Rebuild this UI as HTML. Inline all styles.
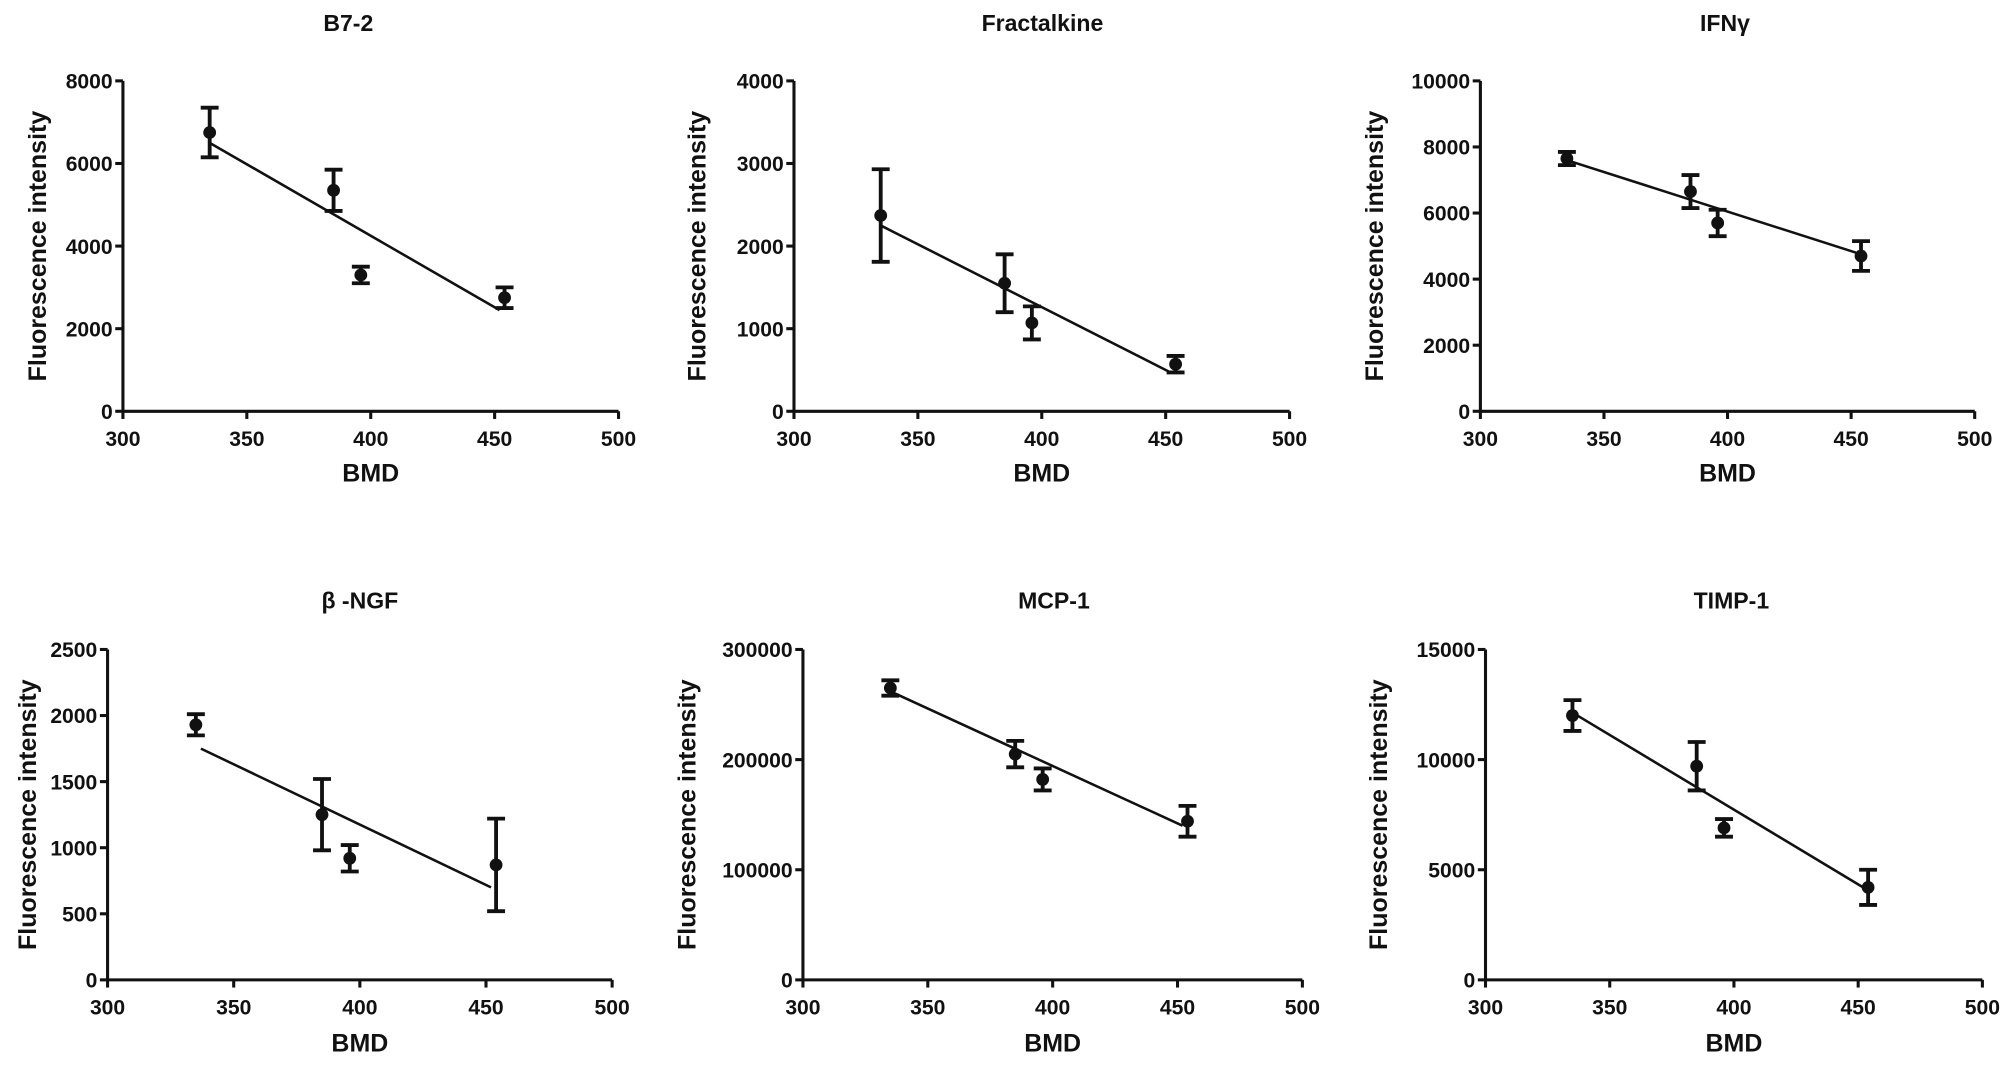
<!DOCTYPE html>
<html><head><meta charset="utf-8"><style>
html,body{margin:0;padding:0;background:#fff;}
svg{display:block;}
text{font-family:"Liberation Sans",Arial,sans-serif;font-weight:bold;fill:#111;}
</style></head><body>
<svg id="fig" width="2008" height="1071" viewBox="0 0 1568 836" xmlns="http://www.w3.org/2000/svg"></svg>
<script>
const bmd = [335, 385, 396, 454];
const titles = ["B7-2", "Fractalkine", "IFNγ", "β -NGF", "MCP-1", "TIMP-1"];
const yMax = [8000, 4000, 10000, 2500, 300000, 15000];
const yStep = [2000, 1000, 2000, 500, 100000, 5000];
const meanB72 = [6750, 5350, 3300, 2750];
const errB72 = [600, 500, 200, 250];
const meanFrac = [2370, 1550, 1070, 570];
const errFrac = [560, 350, 200, 100];
const meanIFN = [7650, 6650, 5700, 4700];
const errIFN = [200, 500, 400, 450];
const meanNGF = [1930, 1250, 920, 870];
const errNGF = [80, 270, 100, 350];
const meanMCP = [265000, 205000, 182000, 144000];
const errMCP = [7000, 12000, 10000, 14000];
const meanTIMP = [12000, 9700, 6900, 4200];
const errTIMP = [700, 1100, 400, 800];
const fitX = [[335, 452], [335, 452], [335, 452], [337, 452], [335, 452], [337, 452]];
const fitY = [[6500, 2450], [2250, 470], [7600, 4800], [1750, 700], [262000, 140000], [12000, 4200]];
const means = [meanB72, meanFrac, meanIFN, meanNGF, meanMCP, meanTIMP];
const errs = [errB72, errFrac, errIFN, errNGF, errMCP, errTIMP];
const xTicks = [300, 350, 400, 450, 500];

const layout = [
  {x0:96,x1:483,y0:321,y1:63,tx:272,ty:24,lx:30,bx:370},
  {x0:620,x1:1007,y0:321,y1:63,tx:814,ty:24,lx:545,bx:370},
  {x0:1156,x1:1542,y0:321,y1:63,tx:1347,ty:24,lx:1074,bx:370},
  {x0:84,x1:478,y0:765,y1:507,tx:281,ty:475,lx:22,bx:815},
  {x0:627,x1:1017,y0:765,y1:507,tx:823,ty:475,lx:537,bx:815},
  {x0:1160,x1:1548,y0:765,y1:507,tx:1352,ty:475,lx:1077,bx:815}
];
const NS="http://www.w3.org/2000/svg";
const svg=document.getElementById('fig');
function mk(tag,attrs,parent){const e=document.createElementNS(NS,tag);for(const k in attrs)e.setAttribute(k,attrs[k]);parent.appendChild(e);return e;}

titles.forEach((t,i)=>{
  const L=layout[i];
  const g=mk('g',{},svg);
  
  
  const sx=v=>L.x0+(v-300)/200*(L.x1-L.x0);
  const sy=v=>L.y0-v/yMax[i]*(L.y0-L.y1);
  const tt=mk('text',{x:L.tx,y:L.ty,'text-anchor':'middle','font-size':18},g);tt.textContent=t;
  
  
  const ax=mk('path',{d:`M${L.x0},${L.y1}V${L.y0}H${L.x1}`,stroke:'#111','stroke-width':2.4,fill:'none'},g);
  
  
  for(let v=0;v<=yMax[i];v+=yStep[i]){
    const y=sy(v);
    mk('line',{x1:L.x0-6,x2:L.x0,y1:y,y2:y,stroke:'#111','stroke-width':2.4},g);
    const lb=mk('text',{x:L.x0-8,y:y+6,'text-anchor':'end','font-size':16.5},g);lb.textContent=v;
    
    
  }
  xTicks.forEach(v=>{
    const x=sx(v);
    mk('line',{x1:x,x2:x,y1:L.y0,y2:L.y0+6,stroke:'#111','stroke-width':2.4},g);
    const lb=mk('text',{x:x,y:L.y0+27,'text-anchor':'middle','font-size':16.5},g);lb.textContent=v;
    
    
  });
  const xl=mk('text',{x:(L.x0+L.x1)/2,y:L.bx+6,'text-anchor':'middle','font-size':19.5},g);xl.textContent='BMD';
  
  
  const cy=(L.y0+L.y1)/2;
  const yl=mk('text',{x:L.lx,y:cy,'text-anchor':'middle','font-size':19.5,transform:`rotate(-90 ${L.lx} ${cy})`,dy:6},g);yl.textContent='Fluorescence intensity';
  
  
  const fl=mk('line',{x1:sx(fitX[i][0]),y1:sy(fitY[i][0]),x2:sx(fitX[i][1]),y2:sy(fitY[i][1]),stroke:'#111','stroke-width':2},g);
  
  
  bmd.forEach((b,j)=>{
    const x=sx(b),m=means[i][j],e=errs[i][j];
    const yt=sy(m+e),yb=sy(m-e);
    const eb=mk('path',{d:`M${x},${yt}V${yb}M${x-7},${yt}H${x+7}M${x-7},${yb}H${x+7}`,stroke:'#111','stroke-width':3,fill:'none'},g);
    
    
    const pt=mk('circle',{cx:x,cy:sy(m),r:5,fill:'#111'},g);
    
    
  });
});
</script>
</body></html>
